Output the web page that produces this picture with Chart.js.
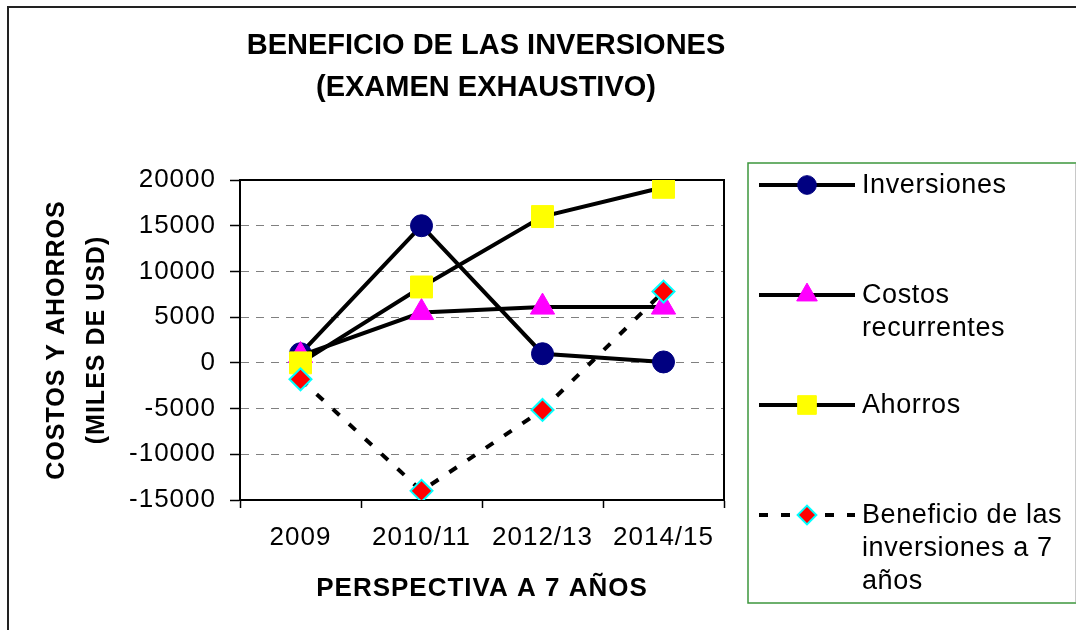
<!DOCTYPE html>
<html><head><meta charset="utf-8">
<script src="https://cdn.jsdelivr.net/npm/chart.js@4/dist/chart.umd.min.js"></script>
<style>html,body{margin:0;padding:0;background:#fff;} #wrap{width:1076px;height:630px;position:relative;}</style>
</head><body><div id="wrap"><canvas id="c" width="1076" height="630"></canvas></div>
<script>
const categories = ['2009', '2010/11', '2012/13', '2014/15'];
const inversiones = [1000, 15000, 1000, 100];
const costosRecurrentes = [800, 5500, 6100, 6100];
const ahorros = [0, 8300, 16000, 19200];
const beneficio = [-1800, -14000, -5150, 7800];
const seriesNames = ['Inversiones', 'Costos recurrentes', 'Ahorros', 'Beneficio de las inversiones a 7 años'];
const legendLines = [['Inversiones'], ['Costos', 'recurrentes'], ['Ahorros'], ['Beneficio de las', 'inversiones a 7', 'años']];
const titleLines = ['BENEFICIO DE LAS INVERSIONES', '(EXAMEN EXHAUSTIVO)'];
const yTitle = ['COSTOS Y AHORROS', '(MILES DE USD)'];
const xTitle = 'PERSPECTIVA A 7 AÑOS';
const yMin = -15000, yMax = 20000, yStep = 5000;

const FONT = "'Liberation Sans', Arial, sans-serif";

function drawMarker(ctx, style, r, x, y, fill, stroke, bw) {
  ctx.save();
  ctx.fillStyle = fill; ctx.strokeStyle = stroke; ctx.lineWidth = bw;
  ctx.setLineDash([]);
  ctx.beginPath();
  if (style === 'circle') {
    ctx.arc(x, y, r, 0, Math.PI * 2);
  } else if (style === 'triangle') {
    const w = r * Math.sin(Math.PI * 2 / 3);
    ctx.moveTo(x, y - r);
    ctx.lineTo(x + w, y + r / 2);
    ctx.lineTo(x - w, y + r / 2);
  } else if (style === 'rect') {
    const s = Math.SQRT1_2 * r;
    ctx.rect(x - s, y - s, 2 * s, 2 * s);
  } else if (style === 'rectRot') {
    ctx.moveTo(x - r, y); ctx.lineTo(x, y - r); ctx.lineTo(x + r, y); ctx.lineTo(x, y + r);
  }
  ctx.closePath();
  ctx.fill();
  if (bw > 0) ctx.stroke();
  ctx.restore();
}

const framePlugin = {
  id: 'frame',
  beforeDraw(chart) {
    const ctx = chart.ctx;
    ctx.letterSpacing = '1px';
    ctx.save();
    ctx.fillStyle = '#fff';
    ctx.fillRect(0, 0, chart.width, chart.height);
    ctx.strokeStyle = '#222';
    ctx.lineWidth = 2;
    ctx.strokeRect(8, 7, 1200, 700);
    ctx.restore();
  },
  beforeDatasetsDraw(chart) {
    const a = chart.chartArea, ctx = chart.ctx;
    ctx.save();
    ctx.strokeStyle = '#000';
    ctx.lineWidth = 2;
    ctx.strokeRect(a.left, a.top, a.right - a.left, a.bottom - a.top);
    ctx.restore();
  }
};

const titlePlugin = {
  id: 'titleLines',
  afterDraw(chart) {
    const ctx = chart.ctx;
    ctx.save();
    ctx.letterSpacing = '0px';
    ctx.fillStyle = '#000';
    ctx.font = 'bold 29px ' + FONT;
    ctx.textAlign = 'center';
    ctx.textBaseline = 'middle';
    const cx = 486;
    titleLines.forEach((t, i) => ctx.fillText(t, cx, 46 + i * 42));
    ctx.restore();
  }
};

const legendPlugin = {
  id: 'customLegend',
  afterDraw(chart) {
    const ctx = chart.ctx;
    ctx.save();
    ctx.strokeStyle = '#3c963c';
    ctx.lineWidth = 1.5;
    ctx.strokeRect(748, 163, 400, 440);
    ctx.strokeStyle = '#c8c8c8';
    ctx.lineWidth = 1;
    ctx.beginPath();
    ctx.moveTo(1075.5, 164);
    ctx.lineTo(1075.5, 602);
    ctx.stroke();
    ctx.letterSpacing = '0.6px';
    ctx.font = '27px ' + FONT;
    ctx.textBaseline = 'middle';
    ctx.textAlign = 'left';
    ctx.fillStyle = '#000';
    chart.data.datasets.forEach((ds, i) => {
      const y = 185 + i * 110;
      ctx.save();
      ctx.strokeStyle = ds.borderColor;
      ctx.lineWidth = ds.borderWidth;
      ctx.setLineDash(ds.borderDash || []);
      ctx.beginPath();
      ctx.moveTo(759, y);
      ctx.lineTo(855, y);
      ctx.stroke();
      ctx.restore();
      drawMarker(ctx, ds.pointStyle, ds.pointRadius * 0.85, 807, y, ds.pointBackgroundColor, ds.pointBorderColor, ds.pointBorderWidth);
      ctx.fillStyle = '#000';
      legendLines[i].forEach((t, j) => ctx.fillText(t, 862, y + 1 + j * 33));
    });
    ctx.restore();
  }
};

const ctx = document.getElementById('c').getContext('2d');
ctx.letterSpacing = '1px';
new Chart(ctx, {
  type: 'line',
  data: {
    labels: categories,
    datasets: [
      { label: seriesNames[0], data: inversiones, borderColor: '#000', borderWidth: 4,
        pointStyle: 'circle', pointRadius: 11, pointBackgroundColor: '#000080', pointBorderColor: '#000080', pointBorderWidth: 1, order: 4 },
      { label: seriesNames[1], data: costosRecurrentes, borderColor: '#000', borderWidth: 4,
        pointStyle: 'triangle', pointRadius: 14, pointBackgroundColor: '#FF00FF', pointBorderColor: '#FF00FF', pointBorderWidth: 1, order: 3 },
      { label: seriesNames[2], data: ahorros, borderColor: '#000', borderWidth: 4,
        pointStyle: 'rect', pointRadius: 15.5, pointBackgroundColor: '#FFFF00', pointBorderColor: '#FFFF00', pointBorderWidth: 1, order: 2 },
      { label: seriesNames[3], data: beneficio, borderColor: '#000', borderWidth: 4, borderDash: [9, 13],
        pointStyle: 'rectRot', pointRadius: 11, pointBackgroundColor: '#FF0000', pointBorderColor: '#00FFFF', pointBorderWidth: 2, order: 1 }
    ]
  },
  options: {
    responsive: false,
    animation: false,
    devicePixelRatio: 1,
    layout: { padding: { left: 12, top: 180, right: 352, bottom: 0 } },
    elements: { line: { tension: 0 } },
    plugins: { legend: { display: false }, tooltip: { enabled: false } },
    scales: {
      x: {
        offset: true,
        grid: { offset: true, drawOnChartArea: false, drawTicks: true, tickLength: 8, tickColor: '#000', tickWidth: 1.5 },
        border: { display: true, color: '#000', width: 2 },
        ticks: { color: '#000', font: { family: FONT, size: 26 }, padding: 14, maxRotation: 0, autoSkip: false },
        title: { display: true, text: xTitle, color: '#000', font: { family: FONT, size: 26, weight: 'bold', lineHeight: 1.2 }, padding: { top: 0, bottom: 26 } },
        afterFit(s) { s.height = 130; }
      },
      y: {
        min: yMin, max: yMax,
        ticks: { stepSize: yStep, color: '#000', font: { family: FONT, size: 26 }, padding: 14, callback: (v) => String(v) },
        grid: {
          color: (c) => (c.tick && (c.tick.value === yMin || c.tick.value === yMax)) ? 'rgba(0,0,0,0)' : '#808080',
          lineWidth: 1, tickLength: 10, tickColor: '#000', tickWidth: 1.5
        },
        border: { display: true, color: '#000', width: 2, dash: [8, 7] },
        title: { display: true, text: yTitle, color: '#000', font: { family: FONT, size: 25, weight: 'bold', lineHeight: 1.6 }, padding: { top: 25, bottom: 0 } },
        afterFit(s) { s.width = 228; }
      }
    }
  },
  plugins: [framePlugin, titlePlugin, legendPlugin]
});
</script>
</body></html>
